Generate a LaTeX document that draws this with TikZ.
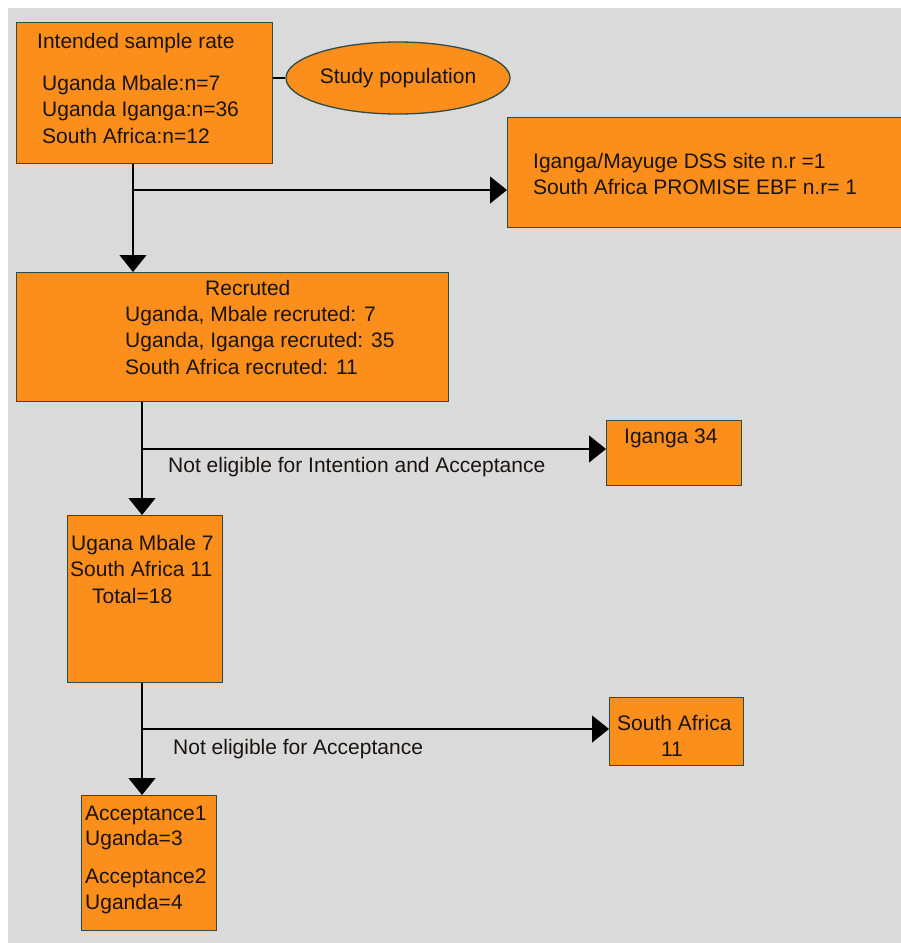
\documentclass[tikz,border=0pt]{standalone}
\usepackage{fontspec}
\setmainfont{Liberation Sans}
\usetikzlibrary{arrows.meta,shapes.geometric,calc}
\definecolor{bggray}{RGB}{218,218,218}
\definecolor{boxorange}{RGB}{252,142,28}
\definecolor{boxedge}{RGB}{45,75,75}
\definecolor{ink}{RGB}{25,20,15}
\tikzset{
  box/.style={draw=boxedge, fill=boxorange, line width=1.3pt, inner sep=0pt, anchor=north west},
  txt/.style={anchor=base west, inner sep=0pt, font=\fontsize{21}{26}\selectfont, text=ink},
  conn/.style={line width=1.3pt, black},
  arr/.style={conn, -{Triangle[width=27pt,length=17pt]}},
}
\begin{document}
\begin{tikzpicture}[x=1pt,y=-1pt]
  \useasboundingbox (0,0) rectangle (901,943);
  \clip (0,0) rectangle (901,943);
  \fill[white] (0,0) rectangle (901,943);
  \fill[bggray] (8,8) rectangle (901,943);

  % boxes
  \node[box, minimum width=256pt, minimum height=141pt] (b1) at (16,22) {};
  \node[draw=boxedge, fill=boxorange, ellipse, line width=1.3pt, inner sep=0pt,
        minimum width=224pt, minimum height=72pt,
        font=\fontsize{21}{26}\selectfont, text=ink] (sp) at (398,78) {Study population};
  \node[box, minimum width=400pt, minimum height=110pt] (dss) at (507,117) {};
  \node[box, minimum width=432pt, minimum height=129pt] (b2) at (16,272) {};
  \node[box, minimum width=135pt, minimum height=65pt] (ig) at (606,420) {};
  \node[box, minimum width=155pt, minimum height=167pt] (b3) at (67,515) {};
  \node[box, minimum width=134pt, minimum height=68pt] (sa) at (609,697) {};
  \node[box, minimum width=135pt, minimum height=135pt] (b4) at (81,795) {};

  % texts
  \node[txt] (t1a) at (37,48) {Intended sample rate};
  \node[txt] (t1b) at (42,90) {Uganda Mbale:n=7};
  \node[txt] (t1c) at (42,116) {Uganda Iganga:n=36};
  \node[txt] (t1d) at (42,143) {South Africa:n=12};

  \node[txt] (tda) at (533,168) {Iganga/Mayuge DSS site n.r =1};
  \node[txt] (tdb) at (533,194) {South Africa PROMISE EBF n.r= 1};

  \node[txt] (t2a) at (205,295) {Recruted};
  \node[txt] (t2b) at (125,321) {Uganda, Mbale recruted: 7};
  \node[txt] (t2c) at (125,347) {Uganda, Iganga recruted: 35};
  \node[txt] (t2d) at (125,374) {South Africa recruted: 11};

  \node[txt] (tig) at (624,443) {Iganga 34};

  \node[txt] (t3a) at (71,550) {Ugana Mbale 7};
  \node[txt] (t3b) at (70,576) {South Africa 11};
  \node[txt] (t3c) at (92,603) {Total=18};

  \node[txt] (tsa) at (617,730) {South Africa};
  \node[txt, anchor=base] (tsb) at (672,756) {11};

  \node[txt] (t4a) at (85,820) {Acceptance1};
  \node[txt] (t4b) at (85,845) {Uganda=3};
  \node[txt] (t4c) at (85,883) {Acceptance2};
  \node[txt] (t4d) at (85,909) {Uganda=4};

  \node[txt] (l1) at (168,472) {Not eligible for Intention and Acceptance};
  \node[txt] (l2) at (173,754) {Not eligible for Acceptance};

  % junctions
  \coordinate (j1) at (133,190);
  \coordinate (j2) at (142,449);
  \coordinate (j3) at (142,729);

  % connectors
  \draw[conn] (b1.east |- sp.west) -- (sp.west);
  \draw[arr] (b1.south -| j1) -- (b2.north -| j1);
  \draw[arr] (j1) -- (dss.west |- j1);
  \draw[arr] (b2.south -| j2) -- (b3.north -| j2);
  \draw[arr] (j2) -- (ig.west |- j2);
  \draw[arr] (b3.south -| j3) -- (b4.north -| j3);
  \draw[arr] (j3) -- (sa.west |- j3);
\end{tikzpicture}
\end{document}
